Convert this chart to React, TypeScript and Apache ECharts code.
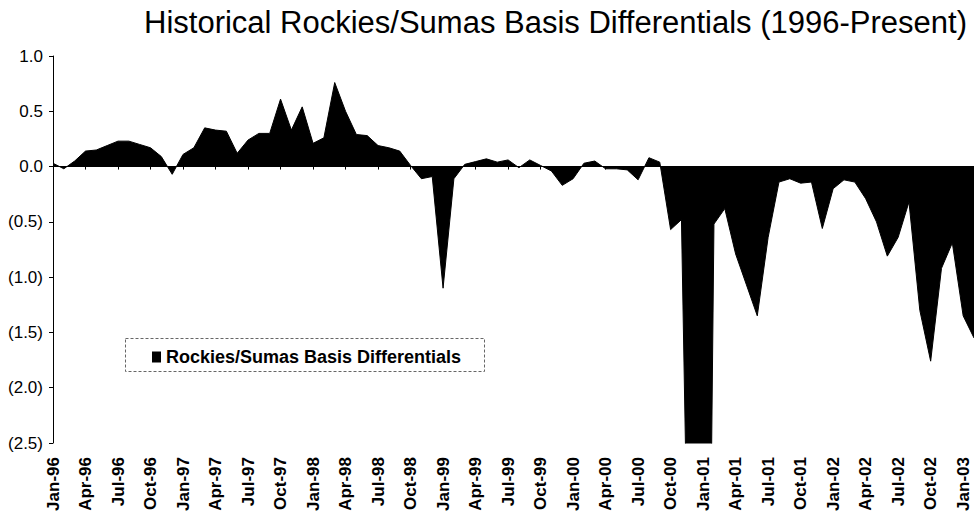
import React, { useEffect, useRef } from "react";
import * as echarts from "echarts";

const MONTHS = ["Jan", "Feb", "Mar", "Apr", "May", "Jun", "Jul", "Aug", "Sep", "Oct", "Nov", "Dec"];
const YEARS = ["96", "97", "98", "99", "00", "01", "02", "03"];
const MONTH_COUNT = 86; // Jan-96 .. Feb-03

const categories: string[] = [];
for (let i = 0; i < MONTH_COUNT; i++) {
  categories.push(`${MONTHS[i % 12]}-${YEARS[Math.floor(i / 12)]}`);
}

// Rockies/Sumas basis differential ($/MMBtu), monthly
const values1996 = [0.03, -0.02, 0.05, 0.14, 0.15, 0.19, 0.23, 0.23, 0.2, 0.17, 0.09, -0.07];
const values1997 = [0.11, 0.17, 0.35, 0.33, 0.32, 0.12, 0.24, 0.3, 0.3, 0.61, 0.33, 0.54];
const values1998 = [0.21, 0.26, 0.76, 0.5, 0.29, 0.28, 0.19, 0.17, 0.14, 0.01, -0.11, -0.09];
const values1999 = [-1.1, -0.11, 0.02, 0.045, 0.07, 0.04, 0.06, -0.01, 0.06, 0.01, -0.04, -0.17];
const values2000 = [-0.11, 0.03, 0.05, -0.02, -0.02, -0.03, -0.12, 0.08, 0.04, -0.57, -0.48, -6.0];
const values2001 = [-10.0, -0.52, -0.38, -0.79, -1.07, -1.35, -0.64, -0.14, -0.11, -0.15, -0.14, -0.56];
const values2002 = [-0.2, -0.12, -0.14, -0.29, -0.5, -0.81, -0.64, -0.32, -1.3, -1.76, -0.92, -0.69];
const values2003 = [-1.35, -1.55];

const basisValues = [
  ...values1996, ...values1997, ...values1998, ...values1999,
  ...values2000, ...values2001, ...values2002, ...values2003,
];

const yTicks = { min: -2.5, max: 1.0, interval: 0.5 };

const TITLE = "Historical Rockies/Sumas Basis Differentials (1996-Present)";
const SERIES_NAME = "Rockies/Sumas Basis Differentials";
const FONT = "'Liberation Sans', Arial, Helvetica, sans-serif";

export default function App() {
  const ref = useRef<HTMLDivElement>(null);

  useEffect(() => {
    if (!ref.current) return;
    const chart = echarts.init(ref.current, undefined, { renderer: "svg" });
    chart.setOption({
      animation: false,
      backgroundColor: "#ffffff",
      textStyle: { fontFamily: FONT },
      title: {
        text: TITLE,
        left: 139,
        top: 2,
        textStyle: { fontFamily: FONT, fontSize: 31, fontWeight: "normal", color: "#000" },
      },
      legend: {
        left: 147,
        top: 343,
        icon: "rect",
        itemWidth: 9,
        itemHeight: 11,
        itemGap: 6,
        textStyle: { fontFamily: FONT, fontSize: 18, fontWeight: "bold", color: "#000" },
        data: [SERIES_NAME],
      },
      graphic: [
        {
          type: "rect",
          left: 123,
          top: 336,
          shape: { x: 0, y: 0, width: 359, height: 33 },
          style: { fill: "none", stroke: "#666", lineWidth: 1, lineDash: [3, 2] },
          silent: true,
        },
      ],
      grid: { left: 53, right: 0, top: 56, bottom: 73, containLabel: false },
      xAxis: [
        {
          type: "category",
          data: categories,
          boundaryGap: false,
          position: "bottom",
          axisLine: { show: false, onZero: false },
          axisTick: { show: false },
          axisLabel: {
            interval: 2,
            rotate: 90,
            margin: 14,
            fontFamily: FONT,
            fontSize: 17,
            fontWeight: "bold",
            color: "#000",
          },
          splitLine: { show: false },
        },
        {
          type: "category",
          data: categories,
          boundaryGap: false,
          position: "bottom",
          axisLine: { show: true, onZero: true, lineStyle: { color: "#000", width: 1 } },
          axisTick: { show: true, interval: 2, length: 3, lineStyle: { color: "#000" } },
          axisLabel: { show: false },
          splitLine: { show: false },
        },
      ],
      yAxis: {
        type: "value",
        min: yTicks.min,
        max: yTicks.max,
        interval: yTicks.interval,
        axisLine: { show: true, lineStyle: { color: "#000", width: 1 } },
        axisTick: { show: true, length: 4, lineStyle: { color: "#000" } },
        splitLine: { show: false },
        axisLabel: {
          margin: 10,
          fontFamily: FONT,
          fontSize: 17,
          color: "#000",
          formatter: (v: number) => {
            const r = Math.round(v * 10) / 10;
            if (r < 0) return `(${Math.abs(r).toFixed(1)})`;
            return Math.abs(r).toFixed(1);
          },
        },
      },
      series: [
        {
          name: SERIES_NAME,
          type: "line",
          data: basisValues,
          xAxisIndex: 0,
          yAxisIndex: 0,
          symbol: "none",
          clip: true,
          lineStyle: { color: "#000", width: 1 },
          itemStyle: { color: "#000" },
          areaStyle: { color: "#000", opacity: 1 },
        },
      ],
    });
    return () => chart.dispose();
  }, []);

  return (
    <div
      style={{ position: "fixed", left: 0, top: 0, width: 974, height: 516, overflow: "hidden", background: "#fff" }}
    >
      <div ref={ref} style={{ width: 974, height: 516 }} />
    </div>
  );
}
